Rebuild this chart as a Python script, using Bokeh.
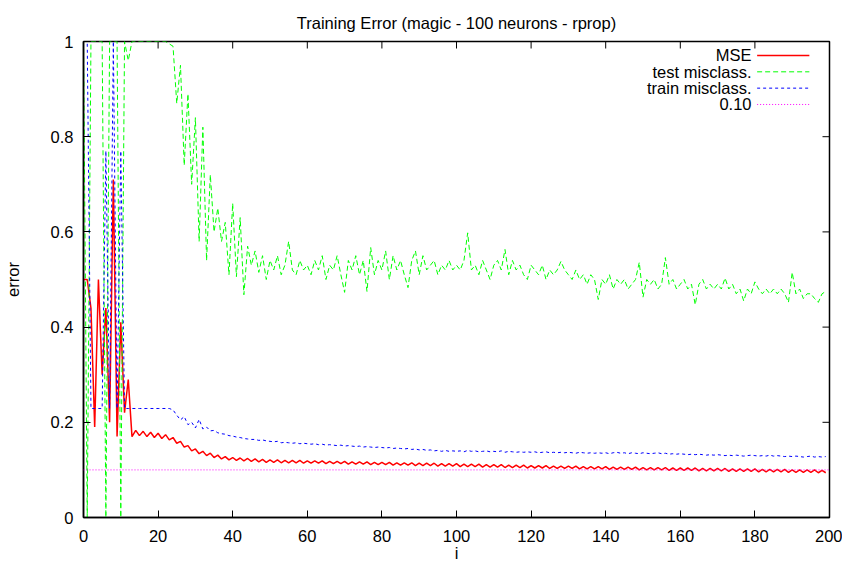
import math
from bokeh.plotting import figure
from bokeh.models import Range1d, FixedTicker, Span, Label
from bokeh.embed import file_html
from bokeh.resources import INLINE

TITLE = "Training Error (magic - 100 neurons - rprop)"
X_LABEL = "i"
Y_LABEL = "error"
SERIES_NAMES = ["MSE", "test misclass.", "train misclass."]
THRESHOLD = 0.10
X_TICKS = [0, 20, 40, 60, 80, 100, 120, 140, 160, 180, 200]
Y_TICKS = [0, 0.2, 0.4, 0.6, 0.8, 1]
Y_TICK_LABELS = ["0", "0.2", "0.4", "0.6", "0.8", "1"]
X_MIN, X_MAX = 0, 200
Y_MIN, Y_MAX = 0, 1

MSE = [
    0.50, 0.50, 0.44, 0.19, 0.50, 0.30, 0.44, 0.20, 0.71, 0.17,
    0.41, 0.22, 0.29, 0.17, 0.183, 0.172, 0.181, 0.170, 0.179, 0.168,
    0.177, 0.166, 0.174, 0.163, 0.168, 0.156, 0.160, 0.148, 0.151, 0.140,
    0.144, 0.134, 0.139, 0.130, 0.135, 0.126, 0.131, 0.123, 0.128, 0.121,
    0.126, 0.120, 0.125, 0.119, 0.124, 0.118, 0.123, 0.117, 0.122, 0.116,
    0.121, 0.116, 0.121, 0.115, 0.120, 0.115, 0.120, 0.115, 0.120, 0.114,
    0.119, 0.114, 0.119, 0.114, 0.119, 0.113, 0.118, 0.113, 0.118, 0.113,
    0.118, 0.112, 0.117, 0.112, 0.117, 0.112, 0.117, 0.111, 0.116, 0.111,
    0.116, 0.111, 0.116, 0.110, 0.115, 0.110, 0.115, 0.110, 0.115, 0.109,
    0.114, 0.109, 0.114, 0.109, 0.114, 0.108, 0.113, 0.108, 0.113, 0.108,
    0.113, 0.107, 0.112, 0.107, 0.112, 0.107, 0.112, 0.106, 0.111, 0.106,
    0.111, 0.106, 0.111, 0.105, 0.110, 0.105, 0.110, 0.105, 0.110, 0.104,
    0.109, 0.104, 0.109, 0.104, 0.109, 0.103, 0.108, 0.103, 0.108, 0.103,
    0.108, 0.103, 0.108, 0.102, 0.107, 0.102, 0.107, 0.102, 0.107, 0.102,
    0.107, 0.101, 0.106, 0.101, 0.106, 0.101, 0.106, 0.101, 0.106, 0.100,
    0.105, 0.100, 0.105, 0.100, 0.105, 0.100, 0.105, 0.099, 0.104, 0.099,
    0.104, 0.099, 0.104, 0.099, 0.104, 0.098, 0.103, 0.098, 0.103, 0.098,
    0.103, 0.098, 0.103, 0.097, 0.102, 0.097, 0.102, 0.097, 0.102, 0.097,
    0.102, 0.096, 0.101, 0.096, 0.101, 0.096, 0.101, 0.096, 0.101, 0.095,
    0.100, 0.095, 0.100, 0.095, 0.100, 0.095, 0.100, 0.094, 0.099, 0.094,
]

TEST = [
    1.0, 0.0, 1.0, 1.0, 1.0, 1.0, 0.0, 1.0, 1.0, 1.0,
    0.0, 1.0, 0.96, 1.0, 1.0, 1.0, 1.0, 1.0, 1.0, 1.0,
    1.0, 1.0, 1.0, 0.995, 0.99, 0.87, 0.95, 0.74, 0.89, 0.70,
    0.84, 0.58, 0.82, 0.54, 0.72, 0.60, 0.65, 0.58, 0.62, 0.51,
    0.66, 0.506, 0.63, 0.468, 0.57, 0.53, 0.56, 0.515, 0.55, 0.50,
    0.54, 0.52, 0.55, 0.51, 0.53, 0.58, 0.52, 0.51, 0.54, 0.52,
    0.53, 0.51, 0.54, 0.52, 0.55, 0.50, 0.53, 0.52, 0.55, 0.51,
    0.473, 0.54, 0.52, 0.55, 0.51, 0.54, 0.475, 0.567, 0.51, 0.54,
    0.52, 0.56, 0.50, 0.55, 0.52, 0.54, 0.51, 0.483, 0.54, 0.56,
    0.51, 0.55, 0.52, 0.53, 0.54, 0.51, 0.53, 0.52, 0.54, 0.52,
    0.53, 0.52, 0.54, 0.598, 0.52, 0.53, 0.51, 0.54, 0.52, 0.50,
    0.53, 0.54, 0.52, 0.563, 0.51, 0.54, 0.52, 0.53, 0.51, 0.50,
    0.53, 0.52, 0.51, 0.53, 0.50, 0.52, 0.51, 0.52, 0.538, 0.52,
    0.51, 0.50, 0.52, 0.50, 0.51, 0.49, 0.51, 0.50, 0.458, 0.50,
    0.49, 0.51, 0.48, 0.50, 0.49, 0.50, 0.48, 0.49, 0.50, 0.536,
    0.463, 0.50, 0.49, 0.50, 0.48, 0.49, 0.546, 0.49, 0.50, 0.48,
    0.49, 0.50, 0.48, 0.49, 0.447, 0.49, 0.50, 0.48, 0.49, 0.48,
    0.49, 0.48, 0.503, 0.48, 0.49, 0.47, 0.48, 0.455, 0.48, 0.47,
    0.495, 0.48, 0.47, 0.48, 0.47, 0.48, 0.47, 0.48, 0.47, 0.452,
    0.515, 0.47, 0.48, 0.46, 0.47, 0.47, 0.46, 0.452, 0.47, 0.475,
]

TRAIN = [
    1.0, 1.0, 0.229, 0.229, 0.229, 0.229, 0.77, 0.229, 1.0, 0.229,
    0.77, 0.229, 0.229, 0.229, 0.229, 0.229, 0.229, 0.229, 0.229, 0.229,
    0.229, 0.229, 0.229, 0.229, 0.226, 0.215, 0.205, 0.212, 0.195, 0.200,
    0.188, 0.206, 0.186, 0.190, 0.182, 0.183, 0.178, 0.176, 0.175, 0.172,
    0.171, 0.169, 0.168, 0.166, 0.165, 0.164, 0.164, 0.162, 0.163, 0.161,
    0.160, 0.159, 0.160, 0.157, 0.158, 0.157, 0.156, 0.157, 0.155, 0.156,
    0.155, 0.154, 0.155, 0.153, 0.154, 0.152, 0.153, 0.152, 0.151, 0.152,
    0.150, 0.151, 0.150, 0.149, 0.150, 0.148, 0.149, 0.148, 0.147, 0.148,
    0.147, 0.146, 0.147, 0.145, 0.146, 0.145, 0.144, 0.145, 0.143, 0.144,
    0.142, 0.143, 0.141, 0.142, 0.140, 0.141, 0.139, 0.141, 0.139, 0.140,
    0.139, 0.140, 0.138, 0.141, 0.139, 0.140, 0.138, 0.139, 0.140, 0.138,
    0.139, 0.138, 0.140, 0.137, 0.139, 0.138, 0.137, 0.138, 0.137, 0.138,
    0.137, 0.138, 0.136, 0.137, 0.138, 0.136, 0.137, 0.136, 0.137, 0.136,
    0.137, 0.136, 0.135, 0.137, 0.136, 0.135, 0.136, 0.135, 0.136, 0.135,
    0.136, 0.134, 0.136, 0.137, 0.135, 0.136, 0.134, 0.136, 0.135, 0.134,
    0.136, 0.135, 0.134, 0.135, 0.136, 0.134, 0.135, 0.133, 0.134, 0.133,
    0.134, 0.133, 0.132, 0.133, 0.132, 0.133, 0.132, 0.131, 0.132, 0.131,
    0.132, 0.131, 0.130, 0.131, 0.130, 0.131, 0.130, 0.129, 0.130, 0.131,
    0.130, 0.129, 0.130, 0.129, 0.131, 0.129, 0.130, 0.129, 0.128, 0.129,
    0.128, 0.129, 0.128, 0.127, 0.128, 0.129, 0.127, 0.128, 0.127, 0.128,
]

ITER = list(range(len(MSE)))

FONT = "Liberation Sans"
FS = "16.5px"
COLORS = ["#ff0000", "#00ff00", "#0000ff", "#ff00ff"]
DASHES = ["solid", "5 3", "3 3", "1 2"]
WIDTHS = [1.5, 1, 1, 1]
TICK_LEN = 7

p = figure(frame_width=746, frame_height=476,
           x_range=Range1d(X_MIN, X_MAX), y_range=Range1d(Y_MIN, Y_MAX),
           output_backend="svg", toolbar_location=None, title=TITLE,
           min_border_left=80, min_border_right=13, min_border_top=41, min_border_bottom=44)
p.background_fill_color = "white"
p.border_fill_color = "white"
p.outline_line_color = "black"
p.outline_line_width = 1.5
p.grid.visible = False

p.title.align = "center"
p.title.text_font = FONT
p.title.text_font_size = FS
p.title.text_font_style = "normal"
p.title.text_color = "black"
p.title.standoff = 20

for ax, ticks in ((p.xaxis[0], X_TICKS), (p.yaxis[0], Y_TICKS)):
    ax.ticker = FixedTicker(ticks=ticks)
    ax.axis_line_color = "black"
    ax.axis_line_width = 1.5
    ax.major_tick_in = TICK_LEN
    ax.major_tick_out = 0
    ax.major_tick_line_color = "black"
    ax.minor_tick_line_color = None
    ax.major_label_text_font = FONT
    ax.major_label_text_font_size = FS
    ax.major_label_text_color = "black"
    ax.axis_label_text_font = FONT
    ax.axis_label_text_font_size = FS
    ax.axis_label_text_font_style = "normal"
    ax.axis_label_text_color = "black"

p.yaxis[0].major_label_overrides = dict(zip(Y_TICKS, Y_TICK_LABELS))
p.xaxis[0].axis_label = X_LABEL
p.yaxis[0].axis_label = Y_LABEL
p.xaxis[0].major_label_standoff = 12
p.yaxis[0].major_label_standoff = 10
p.xaxis[0].axis_label_standoff = -1
p.yaxis[0].axis_label_standoff = 26

# mirrored inward ticks on top and right border (clipped to the frame)
p.scatter(X_TICKS, [Y_MAX] * len(X_TICKS), marker="dash", angle=math.pi / 2,
          size=2 * TICK_LEN, line_color="black", line_width=1)
p.scatter([X_MAX] * len(Y_TICKS), Y_TICKS, marker="dash", angle=0,
          size=2 * TICK_LEN, line_color="black", line_width=1)

p.line(ITER, MSE, line_color=COLORS[0], line_width=WIDTHS[0])
p.line(ITER, TEST, line_color=COLORS[1], line_width=WIDTHS[1], line_dash=DASHES[1])
p.line(ITER, TRAIN, line_color=COLORS[2], line_width=WIDTHS[2], line_dash=DASHES[2])
p.add_layout(Span(location=THRESHOLD, dimension="width", line_color=COLORS[3],
                  line_width=WIDTHS[3], line_dash=DASHES[3]))

# manual legend (text right-aligned, sample to the right), placed in data space
legend_labels = SERIES_NAMES + [f"{THRESHOLD:.2f}"]
LEG_TEXT_X = 179.1
LEG_SAMPLE_X0 = 180.6
LEG_SAMPLE_X1 = 194.6
LEG_Y0 = 0.9706
LEG_DY = 0.0343
for k, lab in enumerate(legend_labels):
    yy = LEG_Y0 - k * LEG_DY
    p.add_layout(Label(x=LEG_TEXT_X, y=yy, text=lab, text_align="right",
                       text_baseline="middle", text_font=FONT, text_font_size=FS,
                       text_color="black"))
    p.line([LEG_SAMPLE_X0, LEG_SAMPLE_X1], [yy, yy], line_color=COLORS[k],
           line_width=WIDTHS[k], line_dash=DASHES[k])

open("out.html", "w").write(file_html(p, INLINE))
